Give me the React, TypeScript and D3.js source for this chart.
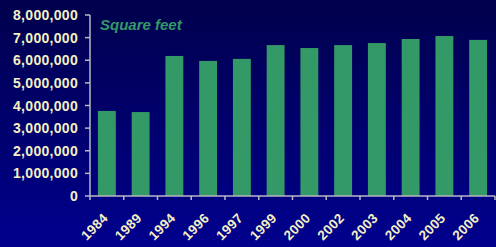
import React from 'react';
import * as d3 from 'd3';

const years = ['1984', '1989', '1994', '1996', '1997', '1999', '2000', '2002', '2003', '2004', '2005', '2006'];
const squareFeet = [3760000, 3710000, 6190000, 5970000, 6060000, 6670000, 6540000, 6670000, 6760000, 6940000, 7070000, 6900000];
const yTicks = [0, 1000000, 2000000, 3000000, 4000000, 5000000, 6000000, 7000000, 8000000];

const width = 496;
const height = 247;
const margin = {top: 15, right: 1, bottom: 51, left: 90};

const App = () => {
    const x = d3.scaleBand<string>()
        .domain(years)
        .range([margin.left, width - margin.right])
        .paddingInner(0.47)
        .paddingOuter(0.235);

    const y = d3.scaleLinear()
        .domain([0, 8000000])
        .range([height - margin.bottom, margin.top]);

    const fmt = d3.format(',');
    const step = x.step();
    const x0 = margin.left;
    const bottom = y(0);
    const labelColor = '#f4f0c4';
    const axisColor = '#b8b8c0';

    return (
        <svg width={width} height={height} style={{position: 'absolute', left: 0, top: 0}}
             fontFamily="'Liberation Sans', Arial, sans-serif">
            <defs>
                <linearGradient id="bg" x1="0" y1="0" x2="0" y2="1">
                    <stop offset="0%" stopColor="#00004c" />
                    <stop offset="100%" stopColor="#00008e" />
                </linearGradient>
            </defs>
            <rect width={width} height={height} fill="url(#bg)" />

            {/* Bars */}
            {years.map((yr, i) => (
                <rect key={yr} x={x(yr)} y={y(squareFeet[i])} width={x.bandwidth()}
                      height={bottom - y(squareFeet[i])} fill="#339966" />
            ))}

            {/* Y axis */}
            <line x1={x0} x2={x0} y1={y(8000000)} y2={bottom} stroke={axisColor} strokeWidth={1.5} />
            {yTicks.map(t => (
                <g key={t}>
                    <line x1={x0 - 5} x2={x0} y1={y(t)} y2={y(t)} stroke={axisColor} strokeWidth={1.5} />
                    <text x={78} y={y(t)} dy="0.36em" textAnchor="end" fontSize={14} fontWeight="bold"
                          letterSpacing={0.3} fill={labelColor}>{fmt(t)}</text>
                </g>
            ))}

            {/* X axis */}
            <line x1={x0} x2={width - margin.right} y1={bottom} y2={bottom} stroke={axisColor} strokeWidth={1.5} />
            {d3.range(years.length + 1).map(i => (
                <line key={i} x1={x0 + i * step} x2={x0 + i * step} y1={bottom} y2={bottom + 4}
                      stroke={axisColor} strokeWidth={1.5} />
            ))}
            {years.map(yr => {
                const cx = (x(yr) as number) + x.bandwidth() / 2;
                return (
                    <text key={yr} transform={`translate(${cx + 2},${bottom + 23}) rotate(-45)`}
                          textAnchor="end" fontSize={13.5} fontWeight="bold" letterSpacing={0.3}
                          fill={labelColor}>{yr}</text>
                );
            })}

            <text x={100} y={30} fontSize={15} fontWeight="bold" fontStyle="italic" fill="#339966">Square feet</text>
        </svg>
    );
};

export default App;
